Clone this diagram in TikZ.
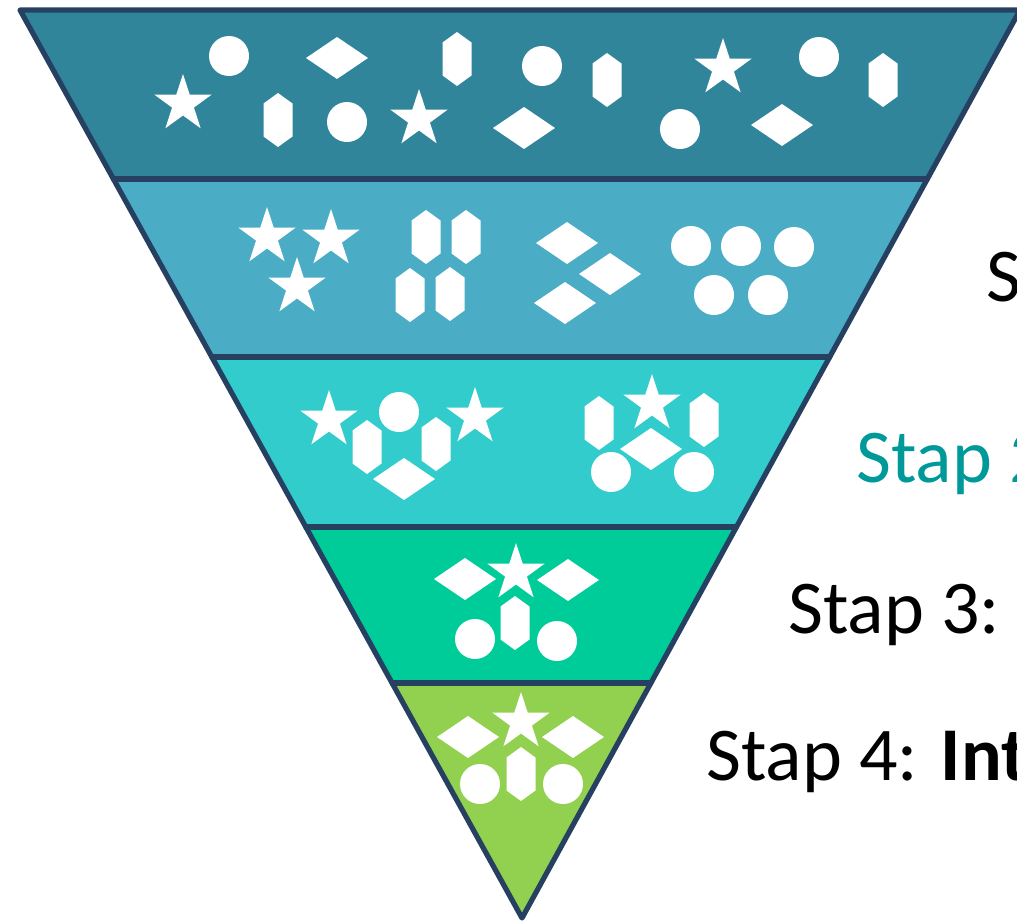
\documentclass[tikz,border=0pt]{standalone}
\usepackage{fontspec}
\setmainfont{Carlito}
\usetikzlibrary{calc}
\definecolor{cone}{RGB}{49,133,155}
\definecolor{ctwo}{RGB}{75,172,198}
\definecolor{cthree}{RGB}{51,204,204}
\definecolor{cfour}{RGB}{0,204,153}
\definecolor{cfive}{RGB}{146,208,80}
\definecolor{edgecol}{RGB}{38,64,97}
\definecolor{tealtext}{RGB}{0,153,153}
\tikzset{
  edgeline/.style={draw=edgecol,line width=5.2,line join=round,line cap=round},
  lbl/.style={anchor=base west,inner sep=0pt,font=\fontsize{76}{90}\selectfont},
  pics/hexa/.style={code={\fill[white] (0,-27)--(14.5,-16.5)--(14.5,16.5)--(0,27)--(-14.5,16.5)--(-14.5,-16.5)--cycle;}},
  pics/diam/.style={code={\fill[white] (-31,0)--(0,-21)--(31,0)--(0,21)--cycle;}},
  pics/dot/.style={code={\fill[white] (0,0) circle[radius=20];}},
  pics/starr/.style={code={\fill[white] (0,-30)--(6.76,-9.3)--(28.53,-9.27)--(10.94,3.55)--(17.63,24.27)--(0,11.5)--(-17.63,24.27)--(-10.94,3.55)--(-28.53,-9.27)--(-6.76,-9.3)--cycle;}},
}
\begin{document}
\begin{tikzpicture}[x=1pt,y=-1pt]
\useasboundingbox (0,0) rectangle (1017,921);
\clip (0,0) rectangle (1017,921);
\coordinate (L) at (20,10);
\coordinate (R) at (1020,10);
\coordinate (A) at (522,918);
\coordinate (l1) at ($(L)!0.1861!(A)$); \coordinate (r1) at ($(R)!0.1861!(A)$);
\coordinate (l2) at ($(L)!0.3822!(A)$); \coordinate (r2) at ($(R)!0.3822!(A)$);
\coordinate (l3) at ($(L)!0.5694!(A)$); \coordinate (r3) at ($(R)!0.5694!(A)$);
\coordinate (l4) at ($(L)!0.7412!(A)$); \coordinate (r4) at ($(R)!0.7412!(A)$);
% bands
\fill[cone] (L) -- (R) -- (r1) -- (l1) -- cycle;
\fill[ctwo] (l1) -- (r1) -- (r2) -- (l2) -- cycle;
\fill[cthree] (l2) -- (r2) -- (r3) -- (l3) -- cycle;
\fill[cfour] (l3) -- (r3) -- (r4) -- (l4) -- cycle;
\fill[cfive] (l4) -- (r4) -- (A) -- cycle;
% band 1 shapes
\pic at (183,104) {starr};
\pic at (419,119) {starr};
\pic at (723,68) {starr};
\pic at (229,56) {dot};
\pic at (347,122) {dot};
\pic at (542,66) {dot};
\pic at (680,129) {dot};
\pic at (819,57) {dot};
\pic at (337,58) {diam};
\pic at (524,128) {diam};
\pic at (782,125) {diam};
\pic at (457,59) {hexa};
\pic at (278,120) {hexa};
\pic at (607,80) {hexa};
\pic at (883,80) {hexa};
% band 2 shapes
\pic at (267,237) {starr};
\pic at (331,239) {starr};
\pic at (297,287) {starr};
\pic at (426,237) {hexa};
\pic at (466,237) {hexa};
\pic at (410,295) {hexa};
\pic at (450,294) {hexa};
\pic at (567,243) {diam};
\pic at (610,274) {diam};
\pic at (565,303) {diam};
\pic at (691,246) {dot};
\pic at (741,246) {dot};
\pic at (794,247) {dot};
\pic at (714,295) {dot};
\pic at (768,295) {dot};
% band 3 shapes
\pic at (329,420) {starr};
\pic at (399,412) {dot};
\pic at (367,447) {hexa};
\pic at (436,444) {hexa};
\pic at (404,479) {diam};
\pic at (475,417) {starr};
\pic at (599,423) {hexa};
\pic at (652,404) {starr};
\pic at (704,420) {hexa};
\pic at (651,449) {diam};
\pic at (611,472) {dot};
\pic at (694,472) {dot};
% band 4 shapes
\pic at (465,579) {diam};
\pic at (516,573) {starr};
\pic at (568,580) {diam};
\pic at (515,623) {hexa};
\pic at (475,639) {dot};
\pic at (557,641) {dot};
% band 5 shapes
\pic at (468,737) {diam};
\pic at (521,722) {starr};
\pic at (573,737) {diam};
\pic at (521,774) {hexa};
\pic at (480,784) {dot};
\pic at (563,784) {dot};
% outlines
\draw[edgeline] (l1) -- (r1);
\draw[edgeline] (l2) -- (r2);
\draw[edgeline] (l3) -- (r3);
\draw[edgeline] (l4) -- (r4);
\draw[edgeline] (L) -- (R) -- (A) -- cycle;
% labels
\node[lbl] (t1) at (986,301) {S};
\node[lbl,text=tealtext] (t2) at (856,482) {Stap 2};
\node[lbl] (t3) at (788,633) {Stap 3: V};
\node[lbl] (t4) at (706,780) {Stap 4: \textbf{Int}};
\end{tikzpicture}
\end{document}
